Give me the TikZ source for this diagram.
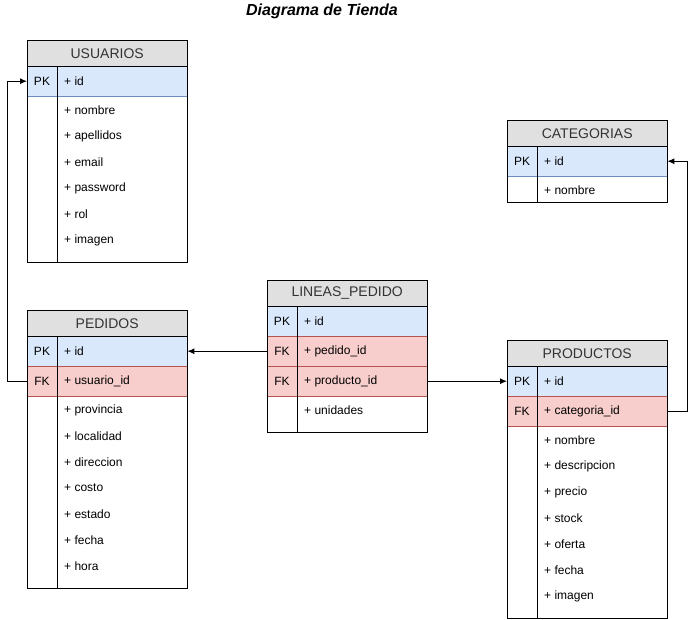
\documentclass[tikz,border=0pt]{standalone}
\usepackage{fontspec}
\setmainfont{Liberation Sans}
\usetikzlibrary{arrows.meta}

\definecolor{headgray}{HTML}{E0E0E0}
\definecolor{pkblue}{HTML}{DAE8FC}
\definecolor{pkline}{HTML}{6C8EBF}
\definecolor{fkred}{HTML}{F8CECC}
\definecolor{fkline}{HTML}{B85450}

\tikzset{
    tblhead/.style={draw=black, fill=headgray, minimum width=160pt, minimum height=26pt,
        anchor=north west, inner sep=0pt, text=black!80, font=\fontsize{14}{16}\selectfont},
    tblframe/.style={draw=black, minimum width=160pt, anchor=north west, inner sep=0pt},
    pkrow/.style={fill=pkblue, draw=pkline, minimum width=160pt, minimum height=30pt,
        anchor=north west, inner sep=0pt},
    fkrow/.style={fill=fkred, draw=fkline, minimum width=160pt, minimum height=30pt,
        anchor=north west, inner sep=0pt},
    keylbl/.style={inner sep=0pt, font=\fontsize{12}{14}\selectfont},
    fieldlbl/.style={anchor=west, inner sep=0pt, font=\fontsize{12}{14}\selectfont},
    relation/.style={draw=black, line width=0.9pt, -{Latex[length=7pt,width=6pt]}}
}

\begin{document}
\begin{tikzpicture}[x=1pt, y=-1pt]
    \useasboundingbox (0,0) rectangle (696,619);

    % Title
    \node[font=\fontsize{16}{19}\selectfont\bfseries\itshape] (titulo) at (322,11) {Diagrama de Tienda};

    % USUARIOS table
    \node[pkrow] (usuarios-pk) at (27,66) {};
    \node[tblframe, minimum height=222pt] (usuarios-box) at (27,40) {};
    \node[tblhead] (usuarios) at (27,40) {USUARIOS};
    \draw (57,66) -- (57,262);
    \node[keylbl] (usuarios-pkl) at (42,81) {PK};
    \node[fieldlbl] (usuarios-id) at (64,81) {+ id};
    \foreach \f [count=\k from 0] in {nombre, apellidos, email, password, rol, imagen} {
        \node[fieldlbl] (usuarios-f\k) at (64,{110+26*\k}) {+ \f};
    }

    % CATEGORIAS table
    \node[pkrow] (categorias-pk) at (507,146) {};
    \node[tblframe, minimum height=82pt] (categorias-box) at (507,120) {};
    \node[tblhead] (categorias) at (507,120) {CATEGORIAS};
    \draw (537,146) -- (537,202);
    \node[keylbl] (categorias-pkl) at (522,161) {PK};
    \node[fieldlbl] (categorias-id) at (544,161) {+ id};
    \node[fieldlbl] (categorias-f0) at (544,190) {+ nombre};

    % LINEAS_PEDIDO table
    \node[pkrow] (lineas-pk) at (267,306) {};
    \node[fkrow] (lineas-fk1) at (267,336) {};
    \node[fkrow] (lineas-fk2) at (267,366) {};
    \node[tblframe, minimum height=152pt] (lineas-box) at (267,280) {};
    \node[tblhead] (lineas) at (267,280) {LINEAS\_PEDIDO};
    \draw (297,306) -- (297,432);
    \node[keylbl] (lineas-pkl) at (282,321) {PK};
    \node[fieldlbl] (lineas-id) at (304,321) {+ id};
    \node[keylbl] (lineas-fkl1) at (282,351) {FK};
    \node[fieldlbl] (lineas-pedido) at (304,351) {+ pedido\_id};
    \node[keylbl] (lineas-fkl2) at (282,381) {FK};
    \node[fieldlbl] (lineas-producto) at (304,381) {+ producto\_id};
    \node[fieldlbl] (lineas-f0) at (304,410) {+ unidades};

    % PEDIDOS table
    \node[pkrow] (pedidos-pk) at (27,336) {};
    \node[fkrow] (pedidos-fk) at (27,366) {};
    \node[tblframe, minimum height=278pt] (pedidos-box) at (27,310) {};
    \node[tblhead] (pedidos) at (27,310) {PEDIDOS};
    \draw (57,336) -- (57,588);
    \node[keylbl] (pedidos-pkl) at (42,351) {PK};
    \node[fieldlbl] (pedidos-id) at (64,351) {+ id};
    \node[keylbl] (pedidos-fkl) at (42,381) {FK};
    \node[fieldlbl] (pedidos-usuario) at (64,381) {+ usuario\_id};
    \foreach \f [count=\k from 0] in {provincia, localidad, direccion, costo, estado, fecha, hora} {
        \node[fieldlbl] (pedidos-f\k) at (64,{410+26*\k}) {+ \f};
    }

    % PRODUCTOS table
    \node[pkrow] (productos-pk) at (507,366) {};
    \node[fkrow] (productos-fk) at (507,396) {};
    \node[tblframe, minimum height=278pt] (productos-box) at (507,340) {};
    \node[tblhead] (productos) at (507,340) {PRODUCTOS};
    \draw (537,366) -- (537,618);
    \node[keylbl] (productos-pkl) at (522,381) {PK};
    \node[fieldlbl] (productos-id) at (544,381) {+ id};
    \node[keylbl] (productos-fkl) at (522,411) {FK};
    \node[fieldlbl] (productos-categoria) at (544,411) {+ categoria\_id};
    \foreach \f [count=\k from 0] in {nombre, descripcion, precio, stock, oferta, fecha, imagen} {
        \node[fieldlbl] (productos-f\k) at (544,{440+26*\k}) {+ \f};
    }

    % Relations
    \draw[relation] (pedidos-fk.west) -- ++(-20,0) |- (usuarios-pk.west);
    \draw[relation] (lineas-fk1.west) -- (pedidos-pk.east);
    \draw[relation] (lineas-fk2.east) -- (productos-pk.west);
    \draw[relation] (productos-fk.east) -- ++(20,0) |- (categorias-pk.east);
\end{tikzpicture}
\end{document}
